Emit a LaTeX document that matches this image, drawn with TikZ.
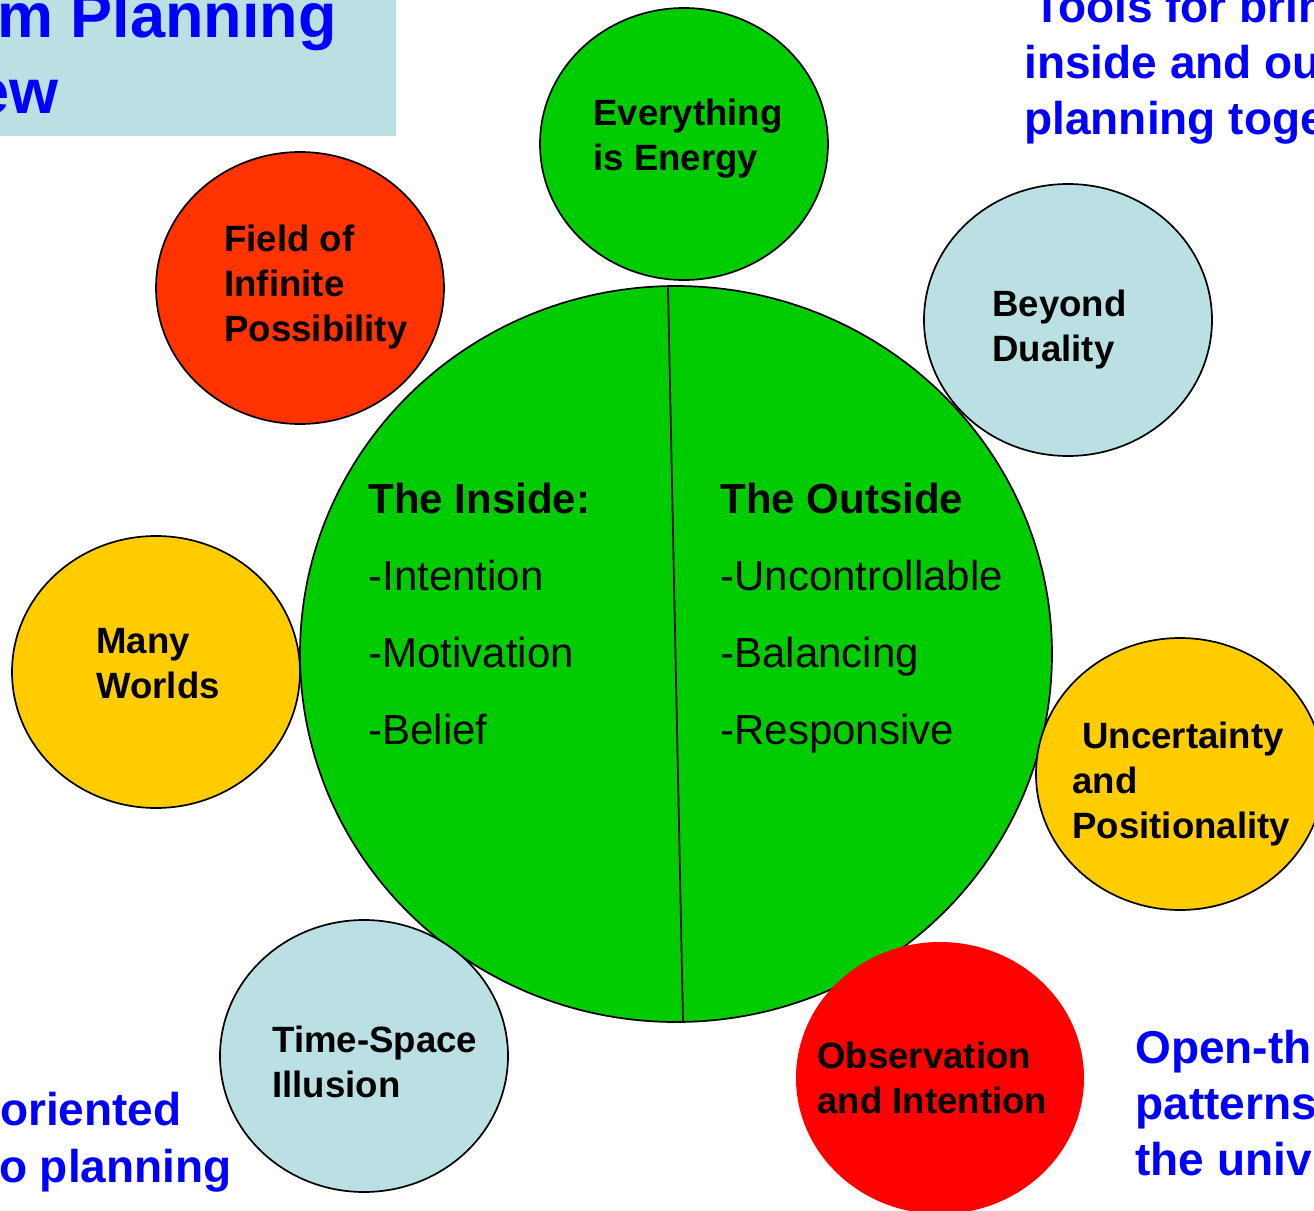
\documentclass[tikz,border=0pt]{standalone}
\usepackage{fontspec}
\setmainfont{Liberation Sans}
\usetikzlibrary{calc}

\definecolor{leafgreen}{HTML}{00CC00}
\definecolor{paleblue}{HTML}{BBE0E3}
\definecolor{flame}{HTML}{FF3300}
\definecolor{sun}{HTML}{FFCC00}
\definecolor{hotred}{HTML}{FF0000}
\definecolor{inkblue}{HTML}{0000FF}

\begin{document}
\begin{tikzpicture}[x=0.5pt, y=-0.5pt,
		bubble/.style={draw=black, line width=0.85pt},
		bubbletext/.style={font=\bfseries\fontsize{18.3pt}{22.5pt}\selectfont, align=left, anchor=base west, inner sep=0pt},
		sidetext/.style={font=\fontsize{21pt}{38.5pt}\selectfont, align=left, anchor=base west, inner sep=0pt},
		bluetext/.style={font=\bfseries\fontsize{23pt}{28pt}\selectfont, text=inkblue, inner sep=0pt}]
		
		\def\W{1314};
		\def\H{1211};
		
		\def\rx{144};
		\def\ry{136};
		
		\useasboundingbox (0,0) rectangle (\W,\H);
		\clip (0,0) rectangle (\W,\H);
		
		\coordinate (O) at (676,654);
		\coordinate (top) at (668,287);
		\coordinate (bottom) at (683,1021);
		
		% title box
		\fill [paleblue] (0,0) rectangle (396,136);
		\node [bluetext, font=\bfseries\fontsize{31.5pt}{38pt}\selectfont, anchor=base west] (title1) at (-3,37) {m Planning};
		\node [bluetext, font=\bfseries\fontsize{31.5pt}{38pt}\selectfont, anchor=base east] (title2) at (59,113) {ew};
		
		% corner texts
		\node [bluetext, anchor=base west] (tools1) at (1033,22) {Tools for brin};
		\node [bluetext, anchor=base west] (tools2) at (1024,78) {inside and ou};
		\node [bluetext, anchor=base west] (tools3) at (1024,134) {planning toge};
		\node [bluetext, anchor=base east] (goal1) at (182,1125) {oriented};
		\node [bluetext, anchor=base east] (goal2) at (232,1182) {o planning};
		\node [bluetext, anchor=base west] (open1) at (1135,1063) {Open-th};
		\node [bluetext, anchor=base west] (open2) at (1135,1119) {patterns};
		\node [bluetext, anchor=base west] (open3) at (1135,1175) {the univ};
		
		% big circle (node base = last line)
		\draw [bubble, fill=leafgreen] (O) ellipse [x radius=376, y radius=368];
		\draw [line width=0.85pt] (top) -- (bottom);
		\node [sidetext] (inside) at (368,744) {\textbf{The Inside:}\\-Intention\\-Motivation\\-Belief};
		\node [sidetext] (outside) at (720,744) {\textbf{The Outside}\\-Uncontrollable\\-Balancing\\-Responsive};
		
		% small circles
		\coordinate (E) at (684,144);
		\coordinate (F) at (300,288);
		\coordinate (D) at (1068,320);
		\coordinate (M) at (156,672);
		\coordinate (U) at (1180,774);
		\coordinate (T) at (364,1056);
		\coordinate (I) at (940,1078);
		
		\draw [bubble, fill=leafgreen] (E) ellipse [x radius=\rx, y radius=\ry];
		\draw [bubble, fill=flame] (F) ellipse [x radius=\rx, y radius=\ry];
		\draw [bubble, fill=paleblue] (D) ellipse [x radius=\rx, y radius=\ry];
		\draw [bubble, fill=sun] (M) ellipse [x radius=\rx, y radius=\ry];
		\draw [bubble, fill=sun] (U) ellipse [x radius=\rx, y radius=\ry];
		\draw [bubble, fill=paleblue] (T) ellipse [x radius=\rx, y radius=\ry];
		\fill [hotred] (I) ellipse [x radius=\rx, y radius=\ry];
		
		\node [bubbletext] (energy) at (593,170) {Everything\\is Energy};
		\node [bubbletext] (field) at (224,341) {Field of\\Infinite\\Possibility};
		\node [bubbletext] (duality) at (992,361) {Beyond\\Duality};
		\node [bubbletext] (worlds) at (96,698) {Many\\Worlds};
		\node [bubbletext] (uncert) at (1072,838) {\hspace{5pt}Uncertainty\\and\\Positionality};
		\node [bubbletext] (illusion) at (272,1097) {Time-Space\\Illusion};
		\node [bubbletext] (observe) at (817,1113) {Observation\\and Intention};
	\end{tikzpicture}
\end{document}
